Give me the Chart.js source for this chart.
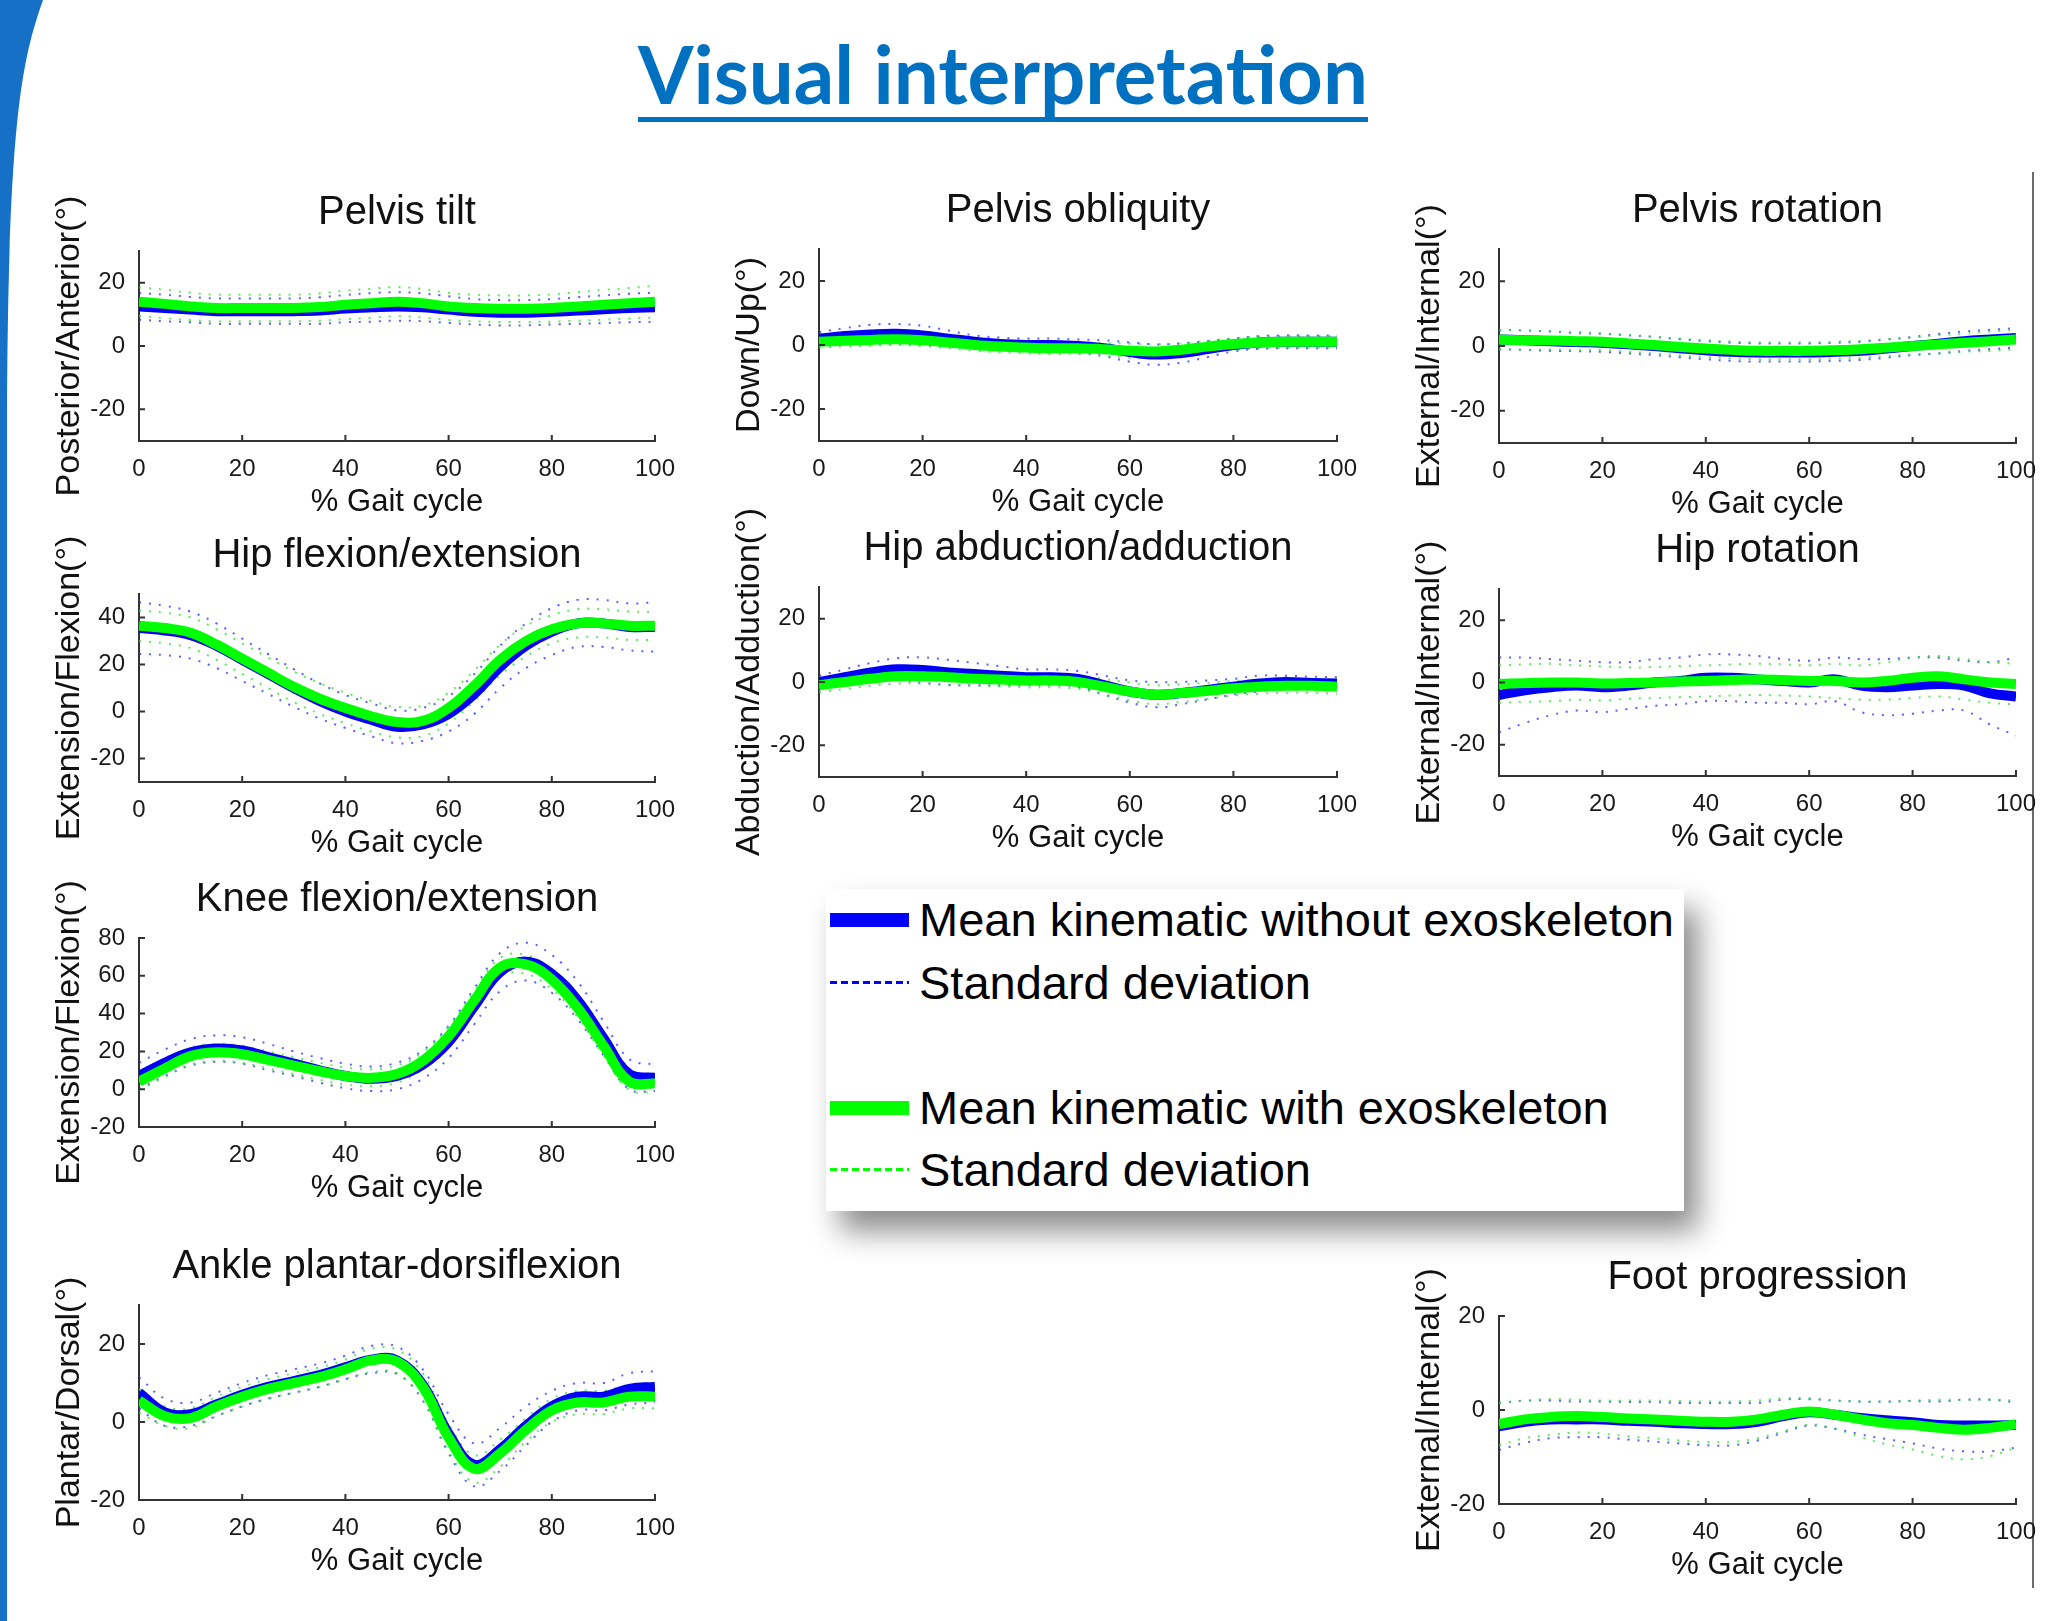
<!DOCTYPE html>
<html>
<head>
<meta charset="utf-8">
<title>Visual interpretation</title>
<script src="https://cdn.jsdelivr.net/npm/chart.js@4.4.1/dist/chart.umd.min.js"></script>
<style>
  html, body { margin: 0; padding: 0; background: #fff; }
  body { position: relative; width: 2067px; height: 1621px; overflow: hidden;
         font-family: "Liberation Sans", Arial, Helvetica, sans-serif; }
  #arc { position: absolute; left: 0; top: 0; }
  #title { position: absolute; color: #0070c0; font-family: Lato, "Open Sans", sans-serif;
           font-weight: 700; white-space: nowrap; line-height: 1; }
  #underline { position: absolute; background: #0070c0; }
  #edge { position: absolute; left: 2032px; top: 172px; width: 2px; height: 1416px; background: #6b6b6b; }
  canvas { position: absolute; }
  #legend { position: absolute; left: 826px; top: 889px; width: 858px; height: 322px; background: #fff;
            box-shadow: 14px 20px 28px rgba(0,0,0,0.45); }
  #legend .row { position: absolute; left: 0; height: 56px; width: 858px; }
  #legend .sample { position: absolute; left: 4px; width: 79px; }
  #legend .lbl { position: absolute; left: 93px; top: 0; font-size: 47px; line-height: 56px; color: #000; white-space: nowrap; }
</style>
</head>
<body>
<svg id="arc" width="60" height="1621"><path d="M0,0 L43,0 C 22,60 8,120 7,420 L7,1621 L0,1621 Z" fill="#1570c6"/></svg>
<div id="title">Visual interpretation</div>
<div id="underline"></div>
<div id="edge"></div>

<div id="legend">
  <div class="row" style="top:3px"><div class="sample" style="top:21px;height:14px;background:#0000ff"></div><div class="lbl">Mean kinematic without exoskeleton</div></div>
  <div class="row" style="top:66px"><div class="sample" style="top:26px;height:3px;background:repeating-linear-gradient(to right,#0000ff 0 7px,transparent 7px 11px)"></div><div class="lbl">Standard deviation</div></div>
  <div class="row" style="top:191px"><div class="sample" style="top:21px;height:14px;background:#00ff00"></div><div class="lbl">Mean kinematic with exoskeleton</div></div>
  <div class="row" style="top:253px"><div class="sample" style="top:26px;height:3px;background:repeating-linear-gradient(to right,#00ff00 0 7px,transparent 7px 11px)"></div><div class="lbl">Standard deviation</div></div>
</div>

<script>
// ----------------------------
// DATA (% gait cycle sampled every 5%)
// ----------------------------
const gaitPct = [0, 5, 10, 15, 20, 25, 30, 35, 40, 45, 50, 55, 60, 65, 70, 75, 80, 85, 90, 95, 100];
const xTicks = [0, 20, 40, 60, 80, 100];

// Pelvis tilt
const noExoTilt   = [12.5, 12.0, 11.5, 11.0, 11.0, 11.0, 11.0, 11.2, 11.8, 12.2, 12.5, 12.2, 11.5, 10.8, 10.5, 10.5, 10.8, 11.2, 11.6, 12.0, 12.2];
const exoTilt     = [14.0, 13.3, 12.5, 12.0, 12.0, 12.0, 12.0, 12.3, 13.0, 13.5, 14.0, 13.5, 12.5, 12.0, 11.8, 11.8, 12.0, 12.5, 13.0, 13.5, 14.0];
const noExoTiltSd = [4.2, 4.2, 4.0, 4.0, 4.0, 4.0, 4.0, 4.2, 4.3, 4.5, 4.5, 4.4, 4.2, 4.0, 4.0, 4.0, 4.0, 4.2, 4.4, 4.5, 4.6];
const exoTiltSd   = [4.5, 4.5, 4.3, 4.2, 4.2, 4.2, 4.2, 4.3, 4.5, 4.6, 4.6, 4.5, 4.3, 4.2, 4.2, 4.2, 4.3, 4.5, 4.7, 4.8, 5.0];

// Pelvis obliquity
const noExoObl   = [2.0, 2.8, 3.3, 3.5, 3.0, 2.0, 1.0, 0.3, 0.0, 0.0, -0.3, -1.0, -2.2, -3.0, -2.5, -1.3, 0.0, 0.8, 1.0, 1.0, 1.0];
const exoObl     = [1.0, 1.3, 1.6, 1.8, 1.5, 0.8, 0.0, -0.5, -0.8, -1.0, -1.0, -1.3, -1.8, -2.0, -1.5, -0.5, 0.3, 0.8, 1.0, 1.0, 1.0];
const noExoOblSd = [2.0, 2.5, 3.0, 3.0, 3.0, 2.5, 2.0, 2.0, 2.0, 2.0, 2.0, 2.5, 3.0, 3.2, 3.0, 2.5, 2.0, 2.0, 2.0, 2.0, 2.0];
const exoOblSd   = [1.8, 1.8, 1.8, 1.8, 1.8, 1.8, 1.8, 1.8, 1.8, 1.8, 1.8, 2.0, 2.2, 2.2, 2.0, 1.8, 1.8, 1.8, 1.8, 1.8, 1.8];

// Pelvis rotation
const noExoRot   = [2.0, 1.8, 1.5, 1.2, 1.0, 0.5, 0.0, -0.7, -1.3, -1.8, -2.0, -2.0, -2.0, -1.8, -1.5, -0.8, 0.0, 0.7, 1.5, 2.0, 2.5];
const exoRot     = [2.0, 1.8, 1.7, 1.5, 1.3, 0.8, 0.3, -0.3, -0.8, -1.2, -1.5, -1.5, -1.5, -1.3, -1.0, -0.5, 0.0, 0.5, 1.0, 1.5, 2.0];
const noExoRotSd = [3.0, 3.0, 3.0, 2.8, 2.8, 2.8, 2.8, 2.8, 2.8, 2.8, 2.8, 2.8, 2.8, 2.8, 2.8, 2.8, 2.8, 3.0, 3.0, 3.0, 3.0];
const exoRotSd   = [3.0, 3.0, 2.8, 2.8, 2.6, 2.6, 2.6, 2.6, 2.6, 2.6, 2.6, 2.6, 2.6, 2.6, 2.6, 2.6, 2.6, 2.8, 2.8, 3.0, 3.0];

// Hip flexion/extension
const noExoHipFlex   = [35.5, 34.5, 32.5, 28.0, 22.0, 16.0, 10.0, 4.5, 0.0, -3.5, -6.5, -5.5, -1.0, 7.5, 19.0, 28.0, 34.0, 37.5, 37.5, 36.0, 36.0];
const exoHipFlex     = [36.5, 35.5, 33.5, 28.5, 22.5, 16.5, 10.5, 5.5, 1.5, -2.0, -4.5, -4.0, 1.5, 11.0, 22.0, 30.0, 35.0, 37.5, 37.5, 36.5, 36.5];
const noExoHipFlexSd = [11.0, 10.5, 10.0, 9.5, 9.0, 8.5, 8.0, 7.5, 7.0, 7.0, 7.0, 7.0, 7.5, 8.5, 9.0, 9.5, 10.0, 10.0, 10.0, 10.0, 10.5];
const exoHipFlexSd   = [6.5, 6.5, 6.5, 6.5, 6.5, 6.5, 6.5, 6.5, 6.5, 6.5, 6.5, 6.5, 6.5, 6.5, 6.5, 6.5, 6.0, 6.0, 6.0, 6.0, 6.0];

// Hip abduction/adduction
const noExoHipAbd   = [0.0, 1.5, 3.0, 4.0, 3.8, 3.0, 2.5, 2.0, 1.5, 1.5, 1.0, -1.0, -3.0, -4.0, -3.5, -2.5, -1.5, -0.5, 0.0, -0.3, -0.5];
const exoHipAbd     = [-1.0, 0.0, 1.0, 1.8, 1.8, 1.5, 1.0, 0.8, 0.5, 0.5, 0.0, -1.5, -3.0, -4.0, -3.5, -2.8, -2.0, -1.5, -1.2, -1.2, -1.5];
const noExoHipAbdSd = [2.0, 2.5, 3.0, 3.5, 4.0, 4.0, 3.5, 3.0, 2.5, 2.5, 2.5, 3.0, 3.5, 4.0, 3.5, 3.0, 2.5, 2.5, 2.0, 2.0, 2.0];
const exoHipAbdSd   = [2.2, 2.2, 2.2, 2.3, 2.3, 2.3, 2.2, 2.2, 2.2, 2.2, 2.2, 2.5, 2.8, 3.0, 2.8, 2.5, 2.3, 2.2, 2.2, 2.2, 2.2];

// Hip rotation
const noExoHipRot   = [-4.0, -2.5, -1.5, -1.0, -1.5, -1.0, 0.0, 0.5, 1.5, 1.5, 1.0, 0.5, 0.0, 1.0, -1.0, -1.5, -1.0, -0.5, -1.0, -3.5, -4.5];
const exoHipRot     = [-0.5, -0.2, 0.0, 0.0, -0.3, -0.2, 0.0, 0.3, 0.5, 0.8, 1.0, 0.8, 0.5, 0.5, 0.0, 0.5, 1.5, 2.0, 1.0, 0.0, -0.5];
const noExoHipRotSd = [12.0, 10.5, 9.0, 8.0, 8.0, 7.5, 7.5, 7.5, 7.5, 7.5, 7.5, 7.0, 7.0, 7.0, 8.5, 9.0, 9.0, 8.5, 8.0, 10.0, 12.5];
const exoHipRotSd   = [6.0, 6.0, 6.0, 5.5, 5.5, 5.0, 5.0, 5.0, 5.0, 5.0, 5.0, 5.0, 5.0, 5.5, 5.5, 6.0, 6.5, 6.5, 6.5, 6.5, 6.5];

// Knee flexion/extension
const noExoKnee   = [7.0, 14.0, 19.5, 21.5, 20.5, 17.0, 13.5, 10.0, 7.0, 5.5, 7.0, 13.0, 25.0, 44.0, 62.0, 67.5, 61.0, 47.0, 27.0, 8.0, 6.0];
const exoKnee     = [4.0, 11.0, 17.5, 19.5, 18.5, 15.5, 12.5, 9.5, 7.0, 6.0, 8.0, 15.0, 28.0, 47.0, 64.5, 66.0, 58.0, 43.0, 23.0, 4.0, 3.0];
const noExoKneeSd = [7.0, 7.0, 7.0, 7.0, 7.0, 7.0, 6.5, 6.5, 6.5, 6.5, 7.0, 7.5, 8.5, 9.5, 10.0, 10.0, 10.0, 10.0, 9.0, 8.0, 7.0];
const exoKneeSd   = [4.5, 4.5, 4.5, 4.5, 4.5, 4.5, 4.5, 4.5, 4.5, 4.5, 4.5, 4.5, 5.0, 5.0, 5.0, 5.0, 5.0, 5.0, 5.0, 4.5, 4.5];

// Ankle plantar-dorsiflexion
const noExoAnkle   = [7.5, 2.5, 2.0, 4.5, 7.0, 9.0, 10.5, 12.0, 14.0, 16.0, 15.8, 9.5, -3.0, -11.0, -7.0, -1.0, 4.0, 6.5, 6.5, 8.5, 9.0];
const exoAnkle     = [5.5, 1.5, 1.0, 4.0, 6.5, 8.5, 10.0, 11.5, 13.5, 15.8, 15.5, 9.0, -4.0, -12.0, -8.0, -2.0, 3.0, 5.0, 5.0, 6.5, 6.5];
const noExoAnkleSd = [4.0, 3.5, 3.0, 3.0, 3.0, 3.0, 3.0, 3.0, 3.0, 3.5, 3.5, 4.0, 5.0, 5.5, 5.5, 5.0, 4.0, 3.5, 3.5, 4.0, 4.0];
const exoAnkleSd   = [3.0, 2.5, 2.5, 2.5, 2.5, 2.5, 2.5, 2.5, 2.5, 3.0, 3.0, 3.5, 3.5, 3.5, 3.5, 3.0, 3.0, 3.0, 3.0, 3.0, 3.0];

// Foot progression
const noExoFoot   = [-3.5, -2.5, -2.0, -2.0, -2.0, -2.3, -2.5, -2.8, -3.0, -3.0, -2.5, -1.3, -0.5, -1.0, -1.7, -2.2, -2.6, -3.2, -3.3, -3.3, -3.2];
const exoFoot     = [-3.0, -2.0, -1.5, -1.3, -1.5, -1.8, -2.0, -2.3, -2.5, -2.5, -2.0, -1.0, -0.3, -1.0, -2.0, -2.8, -3.2, -3.8, -4.2, -3.8, -3.0];
const noExoFootSd = [5.0, 4.5, 4.0, 3.8, 3.8, 4.0, 4.2, 4.3, 4.5, 4.5, 4.0, 3.5, 2.8, 3.0, 3.5, 4.0, 4.5, 5.0, 5.5, 5.5, 4.8];
const exoFootSd   = [4.5, 4.0, 3.8, 3.5, 3.5, 3.8, 4.0, 4.2, 4.3, 4.3, 4.0, 3.5, 2.8, 3.0, 3.8, 4.5, 5.2, 6.0, 6.3, 6.0, 5.0];

// y tick labels per panel
const ticksPm20 = [-20, 0, 20];
const ticksHipFlex = [-20, 0, 20, 40];
const ticksKnee = [-20, 0, 20, 40, 60, 80];

// ----------------------------
// PANEL LAYOUT (plot box in page pixels)
// ----------------------------
const panels = [
  { title: "Pelvis tilt", ylabel: "Posterior/Anterior(°)", L: 139, R: 655, T: 251, B: 441, min: -30, max: 30, ticks: ticksPm20,
    noExo: noExoTilt, noExoSd: noExoTiltSd, exo: exoTilt, exoSd: exoTiltSd },
  { title: "Pelvis obliquity", ylabel: "Down/Up(°)", L: 819, R: 1337, T: 249, B: 441, min: -30, max: 30, ticks: ticksPm20,
    noExo: noExoObl, noExoSd: noExoOblSd, exo: exoObl, exoSd: exoOblSd },
  { title: "Pelvis rotation", ylabel: "External/Internal(°)", L: 1499, R: 2016, T: 249, B: 443, min: -30, max: 30, ticks: ticksPm20,
    noExo: noExoRot, noExoSd: noExoRotSd, exo: exoRot, exoSd: exoRotSd },
  { title: "Hip flexion/extension", ylabel: "Extension/Flexion(°)", L: 139, R: 655, T: 594, B: 782, min: -30, max: 50, ticks: ticksHipFlex,
    noExo: noExoHipFlex, noExoSd: noExoHipFlexSd, exo: exoHipFlex, exoSd: exoHipFlexSd },
  { title: "Hip abduction/adduction", ylabel: "Abduction/Adduction(°)", L: 819, R: 1337, T: 587, B: 777, min: -30, max: 30, ticks: ticksPm20,
    noExo: noExoHipAbd, noExoSd: noExoHipAbdSd, exo: exoHipAbd, exoSd: exoHipAbdSd },
  { title: "Hip rotation", ylabel: "External/Internal(°)", L: 1499, R: 2016, T: 589, B: 776, min: -30, max: 30, ticks: ticksPm20,
    noExo: noExoHipRot, noExoSd: noExoHipRotSd, exo: exoHipRot, exoSd: exoHipRotSd },
  { title: "Knee flexion/extension", ylabel: "Extension/Flexion(°)", L: 139, R: 655, T: 938, B: 1127, min: -20, max: 80, ticks: ticksKnee,
    noExo: noExoKnee, noExoSd: noExoKneeSd, exo: exoKnee, exoSd: exoKneeSd },
  { title: "Ankle plantar-dorsiflexion", ylabel: "Plantar/Dorsal(°)", L: 139, R: 655, T: 1305, B: 1500, min: -20, max: 30, ticks: ticksPm20,
    noExo: noExoAnkle, noExoSd: noExoAnkleSd, exo: exoAnkle, exoSd: exoAnkleSd },
  { title: "Foot progression", ylabel: "External/Internal(°)", L: 1499, R: 2016, T: 1316, B: 1504, min: -20, max: 20, ticks: ticksPm20,
    noExo: noExoFoot, noExoSd: noExoFootSd, exo: exoFoot, exoSd: exoFootSd }
];

const FONT = '"Liberation Sans", Arial, Helvetica, sans-serif';
const BLUE = "#0000f5";
const GREEN = "#00ff00";
const BLUE_SD = "rgba(40,40,255,0.75)";
const GREEN_SD = "rgba(40,230,40,0.75)";
const PAD_TOP = 90, PAD_RIGHT = 40, Y_W = 100, X_H = 85;

Chart.defaults.font.family = FONT;

// inward tick marks + panel title (MATLAB look)
const matlabAxes = {
  id: "matlabAxes",
  afterDraw(chart, args, opts) {
    const { ctx, chartArea: a, scales: { x, y } } = chart;
    ctx.save();
    ctx.strokeStyle = "#333";
    ctx.lineWidth = 2;
    ctx.beginPath();
    x.ticks.forEach(t => {
      const px = x.getPixelForValue(t.value);
      ctx.moveTo(px, a.bottom); ctx.lineTo(px, a.bottom - 6);
    });
    y.ticks.forEach(t => {
      const py = y.getPixelForValue(t.value);
      ctx.moveTo(a.left, py); ctx.lineTo(a.left + 6, py);
    });
    ctx.stroke();
    ctx.fillStyle = "#111";
    ctx.font = "40px " + FONT;
    ctx.textAlign = "center";
    ctx.textBaseline = "middle";
    ctx.fillText(opts.text, (a.left + a.right) / 2, a.top - 38);
    ctx.restore();
  }
};

function toPoints(values) {
  return gaitPct.map((x, i) => ({ x: x, y: values[i] }));
}
function shifted(mean, sd, sign) {
  return gaitPct.map((x, i) => ({ x: x, y: mean[i] + sign * sd[i] }));
}

function meanSet(data, color) {
  return { data: data, borderColor: color, borderWidth: 10, pointRadius: 0, tension: 0.4, borderCapStyle: "butt", fill: false };
}
function sdSet(data, color) {
  return { data: data, borderColor: color, borderWidth: 2, borderDash: [2, 8], pointRadius: 0, tension: 0.4, fill: false };
}

panels.forEach(p => {
  const cv = document.createElement("canvas");
  const w = p.R - p.L + Y_W + PAD_RIGHT;
  const h = p.B - p.T + PAD_TOP + X_H;
  cv.width = w; cv.height = h;
  cv.style.left = (p.L - Y_W) + "px";
  cv.style.top = (p.T - PAD_TOP) + "px";
  cv.style.width = w + "px"; cv.style.height = h + "px";
  document.body.appendChild(cv);

  new Chart(cv.getContext("2d"), {
    type: "line",
    data: {
      datasets: [
        meanSet(toPoints(p.exo), GREEN),
        meanSet(toPoints(p.noExo), BLUE),
        sdSet(shifted(p.exo, p.exoSd, 1), GREEN_SD),
        sdSet(shifted(p.exo, p.exoSd, -1), GREEN_SD),
        sdSet(shifted(p.noExo, p.noExoSd, 1), BLUE_SD),
        sdSet(shifted(p.noExo, p.noExoSd, -1), BLUE_SD)
      ]
    },
    options: {
      responsive: false,
      animation: false,
      devicePixelRatio: 1,
      layout: { padding: { top: PAD_TOP, right: PAD_RIGHT, left: 0, bottom: 0 } },
      plugins: {
        legend: { display: false },
        tooltip: { enabled: false },
        matlabAxes: { text: p.title }
      },
      scales: {
        x: {
          type: "linear", min: 0, max: 100,
          grid: { display: false },
          border: { display: true, color: "#333", width: 2 },
          afterBuildTicks: s => { s.ticks = xTicks.map(v => ({ value: v })); },
          afterFit: s => { s.height = X_H; },
          ticks: { font: { size: 24 }, color: "#1a1a1a", padding: 6, maxRotation: 0, autoSkip: false },
          title: { display: true, text: "% Gait cycle", color: "#111", font: { size: 31 }, padding: { top: 0, bottom: 5 } }
        },
        y: {
          type: "linear", min: p.min, max: p.max,
          grid: { display: false },
          border: { display: true, color: "#333", width: 2 },
          afterBuildTicks: s => { s.ticks = p.ticks.map(v => ({ value: v })); },
          afterFit: s => { s.width = Y_W; },
          ticks: { font: { size: 24 }, color: "#1a1a1a", padding: 6, autoSkip: false },
          title: { display: true, text: p.ylabel, color: "#111", font: { size: 34 }, padding: { top: 10, bottom: 0 } }
        }
      }
    },
    plugins: [matlabAxes]
  });
});

// ----------------------------
// SLIDE TITLE (fit to the original width)
// ----------------------------
(function placeTitle() {
  const el = document.getElementById("title");
  const text = el.textContent;
  const mctx = document.createElement("canvas").getContext("2d");
  mctx.font = "700 100px Lato, 'Open Sans', sans-serif";
  const m100 = mctx.measureText(text);
  const fs = 100 * 730 / m100.width;
  mctx.font = "700 " + fs + "px Lato, 'Open Sans', sans-serif";
  const m = mctx.measureText(text);
  const asc = m.fontBoundingBoxAscent, desc = m.fontBoundingBoxDescent;
  const baselineOffset = (fs - (asc + desc)) / 2 + asc;
  el.style.fontSize = fs + "px";
  el.style.left = "638px";
  el.style.top = (105 - baselineOffset) + "px";
  const ul = document.getElementById("underline");
  ul.style.left = "638px";
  ul.style.top = "117px";
  ul.style.width = "730px";
  ul.style.height = "5px";
})();
</script>
</body>
</html>
